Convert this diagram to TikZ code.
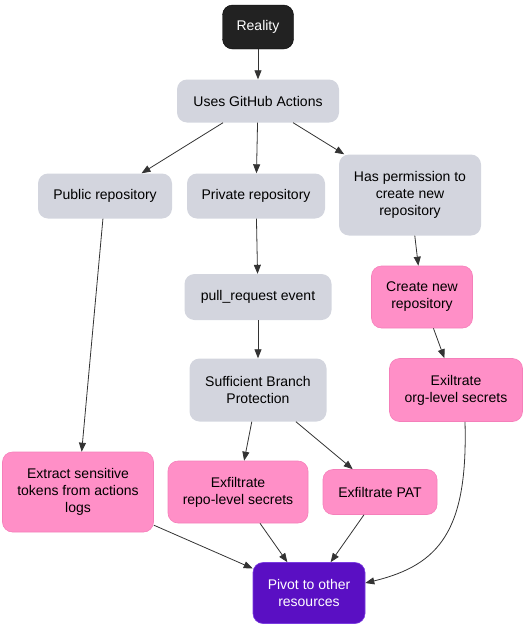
\documentclass[tikz,border=0pt]{standalone}
\usepackage{fontspec}
\setmainfont{Liberation Sans}
\usetikzlibrary{arrows.meta}
\definecolor{startblack}{HTML}{222222}
\definecolor{condgray}{HTML}{D3D5DE}
\definecolor{actpink}{HTML}{FF8FC7}
\definecolor{actline}{HTML}{F57FBA}
\definecolor{goalpurple}{HTML}{5A0FC3}
\definecolor{goalline}{HTML}{7A3BE0}
\definecolor{edgegray}{HTML}{333333}

\begin{document}
\begin{tikzpicture}[x=1pt, y=-1pt, font=\fontsize{14}{17}\selectfont, base/.style={rectangle, rounded corners=10pt, align=center, inner sep=2pt}, start/.style={base, fill=startblack, draw=black, text=white}, cond/.style={base, fill=condgray}, act/.style={base, fill=actpink, draw=actline, line width=0.6pt}, goal/.style={base, fill=goalpurple, draw=goalline, line width=0.6pt, text=white}, n/.style={-{Triangle[length=9pt, width=7pt]}, line width=0.8pt, draw=edgegray}]
                \useasboundingbox (0,0) rectangle (529,640);
                % nodes
                \node[start, minimum width=71pt, minimum height=44pt] (reality) at (258,27) {Reality};
                \node[cond, minimum width=162pt, minimum height=43pt] (actions) at (258,101) {Uses GitHub Actions};
                \node[cond, minimum width=134pt, minimum height=45pt] (public) at (105,196) {Public repository};
                \node[cond, minimum width=138pt, minimum height=45pt] (private) at (256,196) {Private repository};
                \node[cond, minimum width=142pt, minimum height=81pt] (perm) at (410,195) {Has permission to\\create new\\repository};
                \node[cond, minimum width=147pt, minimum height=46pt] (pr) at (258,297) {pull\_request event};
                \node[cond, minimum width=137pt, minimum height=63pt] (protect) at (258,390) {Sufficient Branch\\Protection};
                \node[act, minimum width=101pt, minimum height=62pt] (newrepo) at (422,297) {Create new\\repository};
                \node[act, minimum width=133pt, minimum height=63pt] (org) at (456,390) {Exiltrate\\org-level secrets};
                \node[act, minimum width=151pt, minimum height=80pt] (logs) at (78,492) {Extract sensitive\\tokens from actions\\logs};
                \node[act, minimum width=140pt, minimum height=62pt] (repo) at (238,492) {Exfiltrate\\repo-level secrets};
                \node[act, minimum width=114pt, minimum height=45pt] (pat) at (380,492) {Exfiltrate PAT};
                \node[goal, minimum width=112pt, minimum height=61pt] (pivot) at (309,593) {Pivot to other\\resources};
                % edges
                \draw [n] (reality) -- (actions);
                \draw [n] (actions) -- (public);
                \draw [n] (actions) -- (private);
                \draw [n] (actions) -- (perm);
                \draw [n] (public) -- (logs);
                \draw [n] (private) -- (pr);
                \draw [n] (perm) -- (newrepo);
                \draw [n] (pr) -- (protect);
                \draw [n] (newrepo) -- (org);
                \draw [n] (protect) -- (repo);
                \draw [n] (protect) -- (pat);
                \draw [n] (logs) -- (pivot);
                \draw [n] (repo) -- (pivot);
                \draw [n] (pat) -- (pivot);
                \draw [n] ([xshift=9pt]org.south) .. controls (468,530) and (440,565) .. ([yshift=10pt]pivot.east);
            \end{tikzpicture}
\end{document}
